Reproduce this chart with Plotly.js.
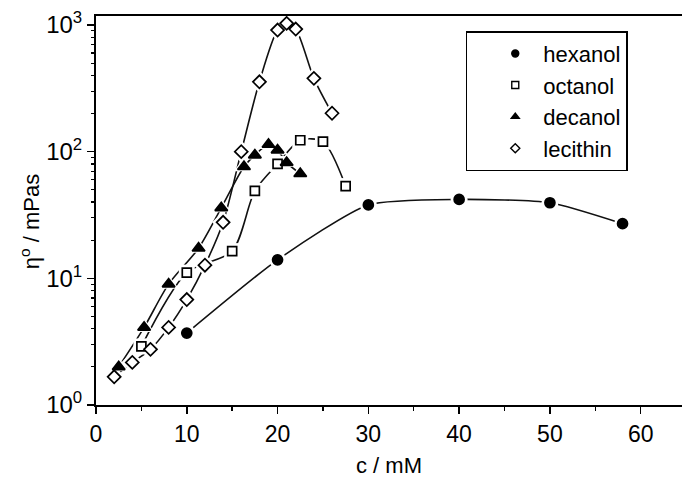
<!DOCTYPE html>
<html>
<head>
<meta charset="utf-8">
<script src="https://cdn.plot.ly/plotly-3.0.1.min.js"></script>
<style>
  html, body { margin: 0; padding: 0; background: #ffffff; overflow: hidden; }
  #chart { width: 682px; height: 479px; }
</style>
</head>
<body>
<div id="chart"></div>
<script>
// Zero-shear viscosity versus surfactant concentration for several co-surfactants
const hexanolC = [10, 20, 30, 40, 50, 58];
const hexanolEta = [3.7, 14, 38, 42, 39.5, 27];

const octanolC = [5, 10, 15, 17.5, 20, 22.5, 25, 27.5];
const octanolEta = [2.9, 11.1, 16.4, 49, 80, 123, 120, 53.5];

const decanolC = [2.5, 5.3, 8, 11.3, 13.8, 16.3, 17.5, 19, 20, 21, 22.5];
const decanolEta = [2.0, 4.1, 9.0, 17.3, 36, 76, 94, 114, 103, 82, 67];

const lecithinC = [2, 4, 6, 8, 10, 12, 14, 16, 18, 20, 21, 22, 24, 26];
const lecithinEta = [1.67, 2.17, 2.75, 4.1, 6.8, 12.7, 27.7, 100, 356, 912, 1030, 929, 379, 201];

const seriesNames = ['hexanol', 'octanol', 'decanol', 'lecithin'];
const yTickVals = [1, 10, 100, 1000];
const yTickText = ['10<sup>0</sup>', '10<sup>1</sup>', '10<sup>2</sup>', '10<sup>3</sup>'];
const xTickVals = [0, 10, 20, 30, 40, 50, 60];

const series = [
  { name: seriesNames[0], x: hexanolC, y: hexanolEta, symbol: 'circle', fill: '#000', size: 10, smooth: 0.6 },
  { name: seriesNames[1], x: octanolC, y: octanolEta, symbol: 'square', fill: '#fff', size: 9, smooth: 0.8 },
  { name: seriesNames[2], x: decanolC, y: decanolEta, symbol: 'triangle-up', fill: '#000', size: 11, smooth: 0.8 },
  { name: seriesNames[3], x: lecithinC, y: lecithinEta, symbol: 'diamond', fill: '#fff', size: 10, smooth: 0.8 }
];

const traces = [];
// connecting curves
series.forEach(s => {
  traces.push({
    x: s.x, y: s.y, type: 'scatter', mode: 'lines', showlegend: false, hoverinfo: 'skip',
    line: { color: '#111', width: 1.6, shape: 'spline', smoothing: s.smooth }
  });
});
// white halos so curves stop short of each symbol
series.forEach(s => {
  traces.push({
    x: s.x, y: s.y, type: 'scatter', mode: 'markers', showlegend: false, hoverinfo: 'skip',
    marker: { symbol: s.symbol, size: s.size + 7, color: '#fff', line: { width: 0 } }
  });
});
// symbols
series.forEach(s => {
  traces.push({
    x: s.x, y: s.y, type: 'scatter', mode: 'markers', showlegend: false, name: s.name,
    marker: { symbol: s.symbol, size: s.size, color: s.fill, line: { color: '#000', width: 1.7 } }
  });
});
// legend entries with small symbols
series.forEach((s, i) => {
  traces.push({
    x: [null], y: [null], type: 'scatter', mode: 'markers', name: s.name,
    legendgroup: 'g' + i, showlegend: true,
    marker: { symbol: s.symbol, size: 7, color: s.fill, line: { color: '#000', width: 1.4 } }
  });
});

const font = 'Liberation Sans, Arial, sans-serif';

const layout = {
  width: 682, height: 479,
  margin: { l: 96, r: 0, t: 16, b: 74 },
  paper_bgcolor: '#fff', plot_bgcolor: '#fff',
  font: { family: font, color: '#000', size: 23 },
  showlegend: true,
  legend: {
    x: 0.631, y: 0.961, xanchor: 'left', yanchor: 'top',
    bgcolor: '#fff', bordercolor: '#000', borderwidth: 1.5,
    font: { family: font, size: 22, color: '#000' },
    traceorder: 'grouped', tracegroupgap: 0,
    indentation: 20, itemwidth: 46
  },
  xaxis: {
    range: [0, 64.55], showgrid: false, zeroline: false,
    showline: true, linecolor: '#000', linewidth: 2, mirror: true,
    ticks: 'outside', ticklen: 7, tickwidth: 1.5, tickcolor: '#000',
    tickvals: xTickVals, tickfont: { family: font, size: 23 },
    minor: { ticks: 'outside', ticklen: 4, tickwidth: 1.5, tickcolor: '#000', dtick: 5, tick0: 0, showgrid: false },
    title: { text: 'c / mM', font: { family: font, size: 22 }, standoff: 12 }
  },
  yaxis: {
    type: 'log', range: [0, 3.071], showgrid: false, zeroline: false,
    showline: true, linecolor: '#000', linewidth: 2,
    ticks: 'outside', ticklen: 7, tickwidth: 1.5, tickcolor: '#000',
    tickvals: yTickVals, ticktext: yTickText, tickfont: { family: font, size: 24 },
    minor: { ticks: 'outside', ticklen: 3.5, tickwidth: 1.2, tickcolor: '#000', dtick: 'D1', showgrid: false }
  },
  annotations: [{
    text: 'η<sup>o</sup> / mPas', textangle: -90, showarrow: false,
    xref: 'paper', yref: 'paper', x: -0.1126, y: 0.47, xanchor: 'center', yanchor: 'middle',
    font: { family: font, size: 22, color: '#000' }
  }]
};

Plotly.newPlot('chart', traces, layout, { staticPlot: true, displayModeBar: false });
</script>
</body>
</html>
